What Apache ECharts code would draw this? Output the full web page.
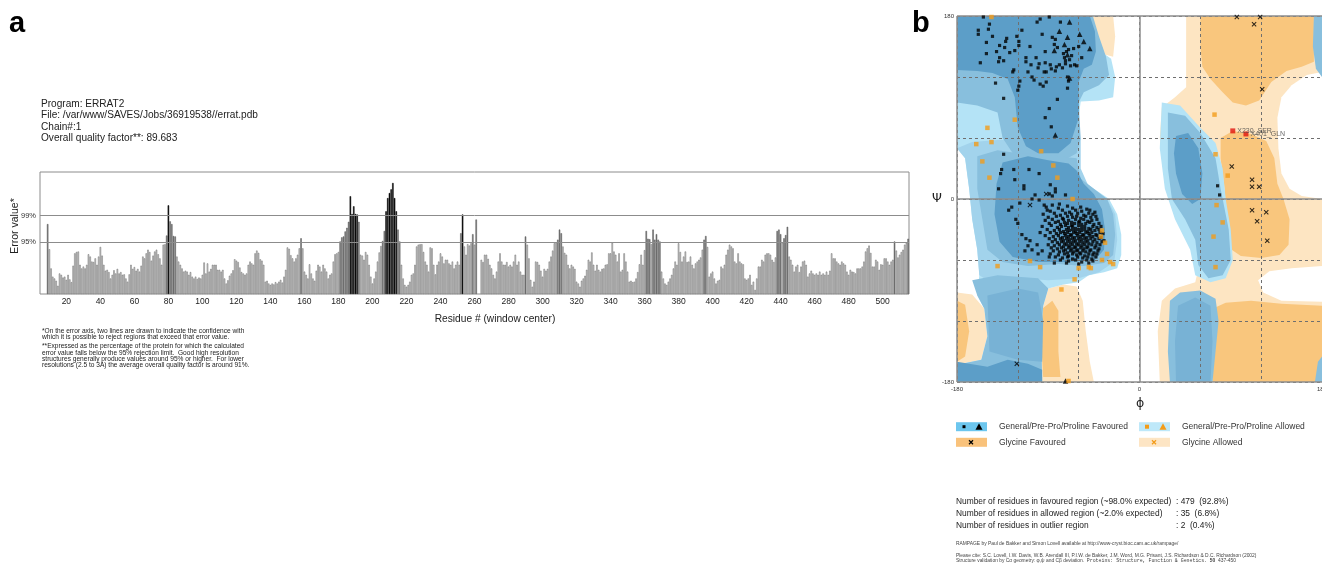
<!DOCTYPE html>
<html><head><meta charset="utf-8">
<script src="https://cdn.jsdelivr.net/npm/echarts@6/dist/echarts.min.js"></script>
<style>html,body{margin:0;padding:0;background:#fff}#c{width:1322px;height:563px}</style>
</head><body><div id="c"></div><script>
const FONT = '"Liberation Sans", Arial, Helvetica, sans-serif';

// ================= Panel a : ERRAT =================
const headerLines = ['Program: ERRAT2', 'File: /var/www/SAVES/Jobs/36919538//errat.pdb', 'Chain#:1', 'Overall quality factor**: 89.683'];
const footnoteLines = [
  '*On the error axis, two lines are drawn to indicate the confidence with',
  'which it is possible to reject regions that exceed that error value.',
  '**Expressed as the percentage of the protein for which the calculated',
  'error value falls below the 95% rejection limit.  Good high resolution',
  'structures generally produce values around 95% or higher.  For lower',
  'resolutions (2.5 to 3A) the average overall quality factor is around 91%.'
];
const firstResidue = 5;
const errorValues = [
 null,null,null,null, 15.3,
 9.8,5.6,3.8,3.4,2.9,1.8,4.5,4.2,3.6,3.8,
 3.1,4.2,3.2,2.6,6.2,8.9,9.2,9.3,6.4,5.6,
 6.0,5.6,6.4,8.7,8.2,7.1,7.0,7.8,6.4,8.2,
 10.3,8.4,6.4,5.1,5.3,4.8,3.4,4.2,5.2,4.5,
 5.5,4.5,4.8,4.2,4.3,3.4,2.7,4.3,6.4,5.5,
 5.9,5.1,5.5,4.9,6.2,8.2,7.8,8.9,9.7,9.2,
 7.3,8.4,9.3,9.7,8.7,7.8,6.4,10.8,10.9,12.8,
 19.4,15.9,15.3,12.7,12.6,8.2,7.1,6.4,5.6,4.9,
 5.1,4.9,4.2,4.8,3.8,3.4,3.8,3.3,3.6,3.4,
 4.2,6.9,4.5,6.7,4.9,5.5,6.4,6.4,6.4,5.3,
 5.3,4.9,5.3,3.4,2.3,3.0,4.0,4.5,5.2,7.6,
 7.3,7.0,5.8,4.8,4.5,4.2,4.5,6.4,7.1,6.7,
 6.4,8.9,9.5,9.0,7.6,7.3,6.4,2.7,2.9,2.3,
 2.0,2.3,2.1,2.6,2.3,2.7,3.1,2.5,3.8,5.3,
 10.2,9.9,8.5,7.8,7.1,7.8,8.6,10.0,12.2,10.0,
 4.9,4.2,3.4,6.5,4.5,3.4,2.9,5.1,6.4,6.0,
 4.9,6.4,5.6,4.9,3.4,4.2,4.5,7.1,8.7,8.9,
 9.2,11.5,12.4,12.6,13.7,14.5,15.8,21.4,17.5,19.2,
 17.5,17.4,15.8,8.6,8.4,7.5,9.2,8.6,6.4,3.8,
 2.3,3.4,4.9,7.1,9.1,10.5,11.6,13.8,18.1,21.0,
 22.1,22.9,24.3,21.0,18.1,14.1,11.5,6.4,3.4,2.0,
 1.6,2.0,2.7,4.2,4.5,6.4,10.4,10.8,10.9,10.9,
 9.2,7.1,6.4,4.9,10.2,10.0,6.4,4.3,6.4,7.1,
 8.9,8.2,6.7,7.5,7.5,6.7,6.4,7.1,5.6,6.4,
 7.1,6.4,13.3,17.4,10.4,8.6,10.9,10.6,11.1,13.1,
 10.8,16.3,null,null,7.5,7.0,8.6,8.6,7.7,6.4,
 5.6,4.2,3.4,4.9,7.1,8.9,7.1,6.4,6.4,7.0,
 6.0,6.4,6.0,7.1,8.6,6.4,7.1,4.9,4.2,4.2,
 12.6,10.8,7.8,3.1,1.6,2.7,7.1,7.0,6.4,5.1,
 3.8,5.5,5.1,5.5,7.1,8.2,9.5,11.1,11.2,11.9,
 14.1,13.3,10.4,9.0,8.6,6.4,5.6,6.4,6.0,5.5,
 2.7,2.3,1.6,2.9,3.4,4.0,5.3,7.5,7.1,9.1,
 6.4,5.1,6.4,5.3,4.9,5.5,5.6,6.4,6.5,8.9,
 8.9,11.2,9.3,8.6,7.1,8.9,4.9,5.3,8.9,7.1,
 4.9,2.7,2.9,2.6,2.7,3.4,4.8,6.5,8.6,6.4,
 9.6,13.8,12.1,12.0,10.9,14.1,11.9,13.1,11.9,11.5,
 4.9,3.4,2.3,2.0,2.7,3.4,4.2,5.6,7.1,6.4,
 11.1,9.2,7.1,8.2,9.3,7.0,7.1,8.2,6.4,5.6,
 6.7,7.1,7.5,8.0,9.7,11.9,12.7,10.3,3.8,4.5,
 4.9,3.4,2.3,2.9,3.1,6.0,5.6,6.4,8.6,9.7,
 10.8,10.4,10.0,7.1,6.7,8.9,7.1,6.7,6.5,3.4,
 3.1,3.4,4.2,2.0,2.7,0.9,3.4,6.0,6.0,7.5,
 7.1,8.6,8.9,8.9,8.6,7.5,7.0,8.0,13.8,14.1,
 13.1,11.2,12.2,12.9,14.7,8.2,7.5,6.4,4.9,6.0,
 6.4,4.8,6.0,7.1,7.3,6.4,3.8,4.5,5.1,4.5,
 4.2,4.5,4.2,4.9,4.2,4.5,4.2,4.9,4.2,5.1,
 8.9,7.8,7.8,7.1,6.7,6.4,7.1,6.7,6.4,4.9,
 4.2,5.3,4.9,4.8,4.5,5.6,5.6,5.6,6.0,7.1,
 9.3,10.0,10.6,9.0,6.0,6.0,7.5,7.1,5.3,6.5,
 6.4,7.8,7.8,7.1,6.4,7.1,7.5,11.5,9.5,8.0,
 8.6,9.2,9.7,10.8,11.2,12.1
];
const limit95 = 11.36, limit99 = 17.19;
const limitLabels = ['95%', '99%'];
const errorAxisMax = 26.7;
const residueTickStep = 20;

// ================= Panel b : Ramachandran =================
const PALE = '#fde5c2', ORANGE = '#f9c67d', WHITE = '#ffffff';
const CYAN = '#b4e3f6', LIGHT = '#a2d3ec', MED = '#88bfdd', MEDDARK = '#78b2d5', DARK = '#5c9ec8';

const glyAllowedRight = [[46,180],[180,180],[180,-180],[20,-180],[18,-130],[22,-100],[35,-88],[55,-82],[60,-60],[50,-40],[35,-10],[25,20],[20,60],[22,90],[35,100],[46,110]];
const glyAllowedLeftBottom = [[-180,-92],[-165,-94],[-153,-108],[-150,-135],[-156,-158],[-180,-163]];
const glyAllowedLeftStrip = [[-90,-88],[-75,-84],[-62,-86],[-56,-100],[-53,-130],[-49,-160],[-45,-180],[-96,-180],[-97,-130],[-95,-105]];
const glyAllowedTop = [[-48,180],[-26,180],[-24,160],[-26,140],[-38,143],[-45,165]];
const glyFavTopRight = [[60,180],[172,180],[172,135],[160,130],[145,126],[130,115],[118,97],[105,92],[92,95],[82,105],[70,118],[62,130],[60,150]];
const glyFavMidRight = [[80,60],[92,67],[110,64],[125,57],[133,40],[136,15],[142,0],[148,-20],[147,-45],[138,-55],[120,-58],[100,-56],[88,-48],[86,-20],[84,10],[80,40]];
const glyFavBottomRight = [[72,-108],[85,-102],[110,-100],[140,-103],[180,-105],[180,-180],[72,-180]];
const glyFavLeftBottom = [[-180,-100],[-172,-104],[-168,-130],[-172,-155],[-180,-160]];
const glyFavLeftStrip = [[-96,-108],[-86,-100],[-80,-110],[-80,-150],[-78,-175],[-95,-175],[-97,-140]];
const emptyTopRight = [[180,125],[165,122],[150,112],[140,100],[136,80],[137,50],[140,25],[148,10],[160,3],[180,0]];
const emptyNotchRight = [[180,-66],[150,-68],[128,-71],[117,-80],[122,-92],[140,-100],[180,-101]];
const genAllowedLeft = [[-180,180],[-48,180],[-45,165],[-38,145],[-28,138],[-24,120],[-26,100],[-40,97],[-58,96],[-60,80],[-60,40],[-58,20],[-45,10],[-30,0],[-22,-15],[-18,-35],[-18,-55],[-22,-68],[-35,-72],[-50,-75],[-60,-82],[-75,-84],[-90,-88],[-95,-105],[-97,-130],[-96,-180],[-180,-180],[-180,-163],[-156,-158],[-150,-135],[-153,-108],[-160,-95],[-158,-75],[-160,-50],[-165,-20],[-168,10],[-172,40],[-180,50]];
const genLightLeft = [[-180,50],[-172,40],[-168,10],[-165,-20],[-160,-50],[-158,-75],[-150,-80],[-120,-78],[-90,-80],[-60,-78],[-40,-72],[-25,-62],[-22,-40],[-24,-15],[-32,0],[-50,12],[-58,30],[-58,60],[-100,58],[-140,58],[-165,56]];
const genMedBottom = [[-165,-80],[-140,-75],[-100,-78],[-90,-88],[-95,-105],[-97,-130],[-96,-180],[-180,-180],[-180,-163],[-156,-158],[-150,-135],[-153,-108],[-160,-95]];
const genMedBeta = [[-180,180],[-46,180],[-40,160],[-33,140],[-30,122],[-40,112],[-55,105],[-60,95],[-58,60],[-62,45],[-80,35],[-105,38],[-125,45],[-135,60],[-140,85],[-160,92],[-180,95]];
const genMedAlpha = [[-160,42],[-140,48],[-120,45],[-100,45],[-80,42],[-62,40],[-58,20],[-45,10],[-32,0],[-26,-15],[-24,-35],[-26,-55],[-35,-63],[-55,-66],[-80,-64],[-110,-66],[-135,-62],[-150,-50],[-155,-20],[-160,10]];
const genMedDarkBottom = [[-150,-95],[-120,-88],[-100,-92],[-95,-120],[-96,-160],[-120,-158],[-148,-150]];
const genFavBeta = [[-180,180],[-49,180],[-44,165],[-43,145],[-47,132],[-55,128],[-60,115],[-60,80],[-68,55],[-80,45],[-100,45],[-112,52],[-120,70],[-123,100],[-130,118],[-145,124],[-160,126],[-180,127]];
const genFavAlpha = [[-135,36],[-110,42],[-90,38],[-70,35],[-62,28],[-55,15],[-45,5],[-37,-10],[-34,-30],[-35,-50],[-44,-60],[-70,-62],[-100,-62],[-125,-57],[-138,-42],[-143,-15],[-141,15]];
const genFavBottom = [[-180,-160],[-150,-165],[-130,-158],[-110,-162],[-96,-168],[-96,-180],[-180,-180]];
const genAllowedAlphaL = [[22,95],[40,92],[60,70],[75,55],[82,30],[85,0],[90,-30],[92,-60],[85,-78],[70,-82],[55,-75],[50,-50],[35,-20],[25,10],[20,50]];
const genMedAlphaL = [[28,85],[45,82],[60,65],[75,40],[80,10],[88,-30],[90,-60],[82,-75],[68,-78],[58,-65],[55,-40],[45,-20],[32,0],[28,30]];
const genFavAlphaL = [[36,62],[48,65],[58,50],[62,25],[60,0],[52,-5],[42,5],[36,25],[34,45]];
const genMedBottomRight = [[30,-100],[40,-92],[60,-90],[75,-98],[78,-120],[75,-150],[72,-180],[30,-180],[28,-150]];
const genFavBottomRight = [[38,-105],[55,-97],[70,-105],[72,-140],[70,-180],[36,-180],[35,-140]];
const genWrapTop = [[172,180],[180,180],[180,120],[174,128],[171,150]];
const genWrapBottom = [[173,-180],[180,-180],[180,-155],[176,-160]];

const regionLayers = [
  [glyAllowedRight, PALE], [glyAllowedLeftBottom, PALE], [glyAllowedLeftStrip, PALE], [glyAllowedTop, PALE],
  [glyFavTopRight, ORANGE], [glyFavMidRight, ORANGE], [glyFavBottomRight, ORANGE], [glyFavLeftBottom, ORANGE], [glyFavLeftStrip, ORANGE],
  [emptyTopRight, WHITE], [emptyNotchRight, WHITE],
  [genAllowedLeft, CYAN], [genLightLeft, LIGHT], [genMedBottom, MED], [genMedBeta, MED], [genMedAlpha, MED], [genMedDarkBottom, MEDDARK],
  [genFavBeta, DARK], [genFavAlpha, DARK], [genFavBottom, DARK],
  [genAllowedAlphaL, CYAN], [genMedAlphaL, MED], [genFavAlphaL, DARK],
  [genMedBottomRight, MED], [genFavBottomRight, MEDDARK], [genWrapTop, MED], [genWrapBottom, MED]
];

const betaSquares = [[-154,179],[-159,166],[-148,172],[-149,167],[-159,162],[-151,154],[-157,134],[-151,143],[-138,151],[-141,145],[-131,158],[-132,155],[-133,149],[-138,139],[-139,135],[-134,136],[-128,144],[-123,146],[-121,160],[-119,155],[-116,166],[-119,151],[-124,127],[-112,139],[-107,132],[-101,174],[-98,177],[-89,179],[-102,139],[-99,133],[-100,129],[-93,145],[-93,134],[-92,125],[-86,159],[-83,157],[-84,152],[-81,149],[-78,174],[-88,132],[-83,126],[-79,132],[-76,129],[-73,133],[-74,139],[-75,143],[-72,145],[-73,136],[-69,137],[-68,131],[-64,132],[-62,131],[-70,147],[-67,141],[-65,148],[-57,139],[-71,120],[-70,116],[-71,109],[-81,98],[-89,89],[-93,80],[-87,71],[-118,116],[-119,111],[-120,107],[-104,117],[-106,120],[-98,113],[-95,111],[-92,115],[-134,99],[-142,114],[-125,125],[-112,135],[-110,125],[-94,125],[-87,128],[-82,130],[-145,160],[-108,150],[-96,162],[-60,150]];
const alphaSparse = [[-134,44],[-136,29],[-124,29],[-109,29],[-99,25],[-137,25],[-123,19],[-114,13],[-114,10],[-139,10],[-83,10],[-83,7],[-88,14],[-103,4],[-106,0],[-99,-1],[-89,5],[-86,3],[-73,4],[-94,-6],[-118,-4],[-126,-8],[-79,-5],[-86,-6],[-91,-11],[-129,-11],[-122,-20],[-120,-24],[-116,-35],[-112,-39],[-110,-46],[-108,-41],[-113,-51],[-101,-45],[-106,-50],[-98,-33],[-100,-54],[-89,-57],[-84,-63],[-96,-51]];
const helixCluster = [
 [-92,-8],[-80,-9],[-71,-7],[-66,-9],[-58,-8],[-52,-10],
 [-88,-12],[-76,-11],[-69,-13],[-63,-11],[-57,-12],[-49,-11],[-44,-13],
 [-95,-15],[-84,-14],[-78,-16],[-73,-14],[-67,-15],[-61,-14],[-55,-16],[-50,-14],[-46,-15],
 [-90,-18],[-82,-17],[-76,-19],[-71,-17],[-66,-18],[-62,-17],[-58,-19],[-53,-17],[-48,-18],[-43,-17],
 [-93,-21],[-86,-20],[-80,-22],[-75,-20],[-70,-21],[-67,-23],[-63,-20],[-59,-22],[-55,-20],[-51,-22],[-47,-21],[-42,-20],
 [-89,-24],[-83,-23],[-78,-25],[-74,-23],[-71,-24],[-67,-26],[-64,-24],[-60,-23],[-57,-25],[-53,-24],[-49,-23],[-45,-25],[-40,-24],
 [-96,-27],[-87,-26],[-81,-28],[-77,-27],[-73,-26],[-70,-28],[-66,-27],[-63,-29],[-60,-26],[-57,-28],[-54,-27],[-50,-29],[-46,-27],[-42,-28],[-38,-27],
 [-91,-30],[-84,-31],[-79,-30],[-75,-32],[-72,-30],[-69,-31],[-66,-30],[-63,-32],[-60,-30],[-57,-31],[-54,-30],[-51,-32],[-48,-30],[-44,-31],[-40,-30],
 [-88,-33],[-82,-34],[-78,-33],[-74,-34],[-71,-33],[-68,-35],[-65,-33],[-62,-34],[-59,-33],[-56,-35],[-53,-33],[-50,-34],[-47,-33],[-43,-35],[-39,-33],[-36,-34],
 [-93,-36],[-85,-37],[-80,-36],[-76,-38],[-73,-36],[-70,-37],[-67,-36],[-64,-38],[-61,-36],[-58,-37],[-55,-36],[-52,-38],[-49,-36],[-46,-37],[-42,-36],[-38,-38],
 [-89,-39],[-83,-40],[-78,-39],[-75,-41],[-72,-39],[-69,-40],[-66,-39],[-63,-41],[-60,-39],[-57,-40],[-54,-39],[-51,-41],[-48,-39],[-44,-40],[-40,-39],[-35,-41],
 [-86,-42],[-81,-43],[-77,-42],[-74,-44],[-71,-42],[-68,-43],[-65,-42],[-62,-44],[-59,-42],[-56,-43],[-53,-42],[-50,-44],[-46,-42],[-42,-43],[-37,-42],
 [-90,-45],[-84,-46],[-79,-45],[-75,-47],[-72,-45],[-69,-46],[-66,-45],[-63,-47],[-60,-45],[-57,-46],[-54,-45],[-51,-47],[-47,-45],[-43,-46],[-39,-45],
 [-87,-48],[-81,-49],[-77,-48],[-73,-50],[-70,-48],[-67,-49],[-64,-48],[-61,-50],[-58,-48],[-55,-49],[-52,-48],[-48,-50],[-44,-48],[-40,-49],
 [-85,-51],[-79,-52],[-75,-51],[-71,-53],[-68,-51],[-65,-52],[-62,-51],[-59,-53],[-56,-51],[-53,-52],[-49,-51],[-45,-53],[-41,-51],
 [-88,-54],[-80,-55],[-74,-54],[-70,-56],[-66,-54],[-62,-55],[-58,-54],[-54,-56],[-50,-54],[-46,-55],[-42,-54],
 [-83,-57],[-76,-58],[-71,-57],[-66,-59],[-61,-57],[-56,-58],[-51,-57],[-47,-59],[-43,-57],
 [-78,-60],[-70,-61],[-63,-60],[-57,-62],[-52,-60],[-46,-61],
 [-72,-63],[-60,-64],[-50,-63]
];
const alphaLSquares = [[77,13],[79,4]];
const favouredTriangles = [[-69,174],[-79,165],[-71,159],[-59,162],[-55,155],[-49,148],[-74,152],[-84,146],[-71,142],[-69,119],[-83,63],[-73,-179]];
const allowedSquares = [[-146,179],[-123,78],[-150,70],[-161,54],[-146,56],[-97,47],[-155,37],[-85,33],[-148,21],[-81,21],[-66,0],[-140,-66],[-98,-67],[-108,-61],[-60,-68],[-50,-67],[-48,-68],[-37,-60],[-29,-62],[-26,-64],[-32,-54],[-34,-43],[-38,-37],[-37,-31],[-64,-79],[-77,-89],[-70,-179],[74,83],[75,44],[87,23],[76,-6],[82,-23],[73,-37],[75,-67]];
const glycinePoints = [[-92,5],[-108,-6],[-121,-162],[96,179],[119,179],[113,172],[121,108],[91,32],[111,19],[111,12],[118,12],[111,-11],[125,-13],[116,-22],[126,-41]];
const outlierPoints = [[92,67],[105,64]];
const outlierLabels = ['X230_SER', 'X401_GLN'];
const ramaTickLabels = [-180, 0, 180];
const statLines = [
  ['Number of residues in favoured region (~98.0% expected)', ': 479  (92.8%)'],
  ['Number of residues in allowed region (~2.0% expected)', ': 35  (6.8%)'],
  ['Number of residues in outlier region', ': 2  (0.4%)']
];
const legendItems = ['General/Pre-Pro/Proline Favoured', 'General/Pre-Pro/Proline Allowed', 'Glycine Favoured', 'Glycine Allowed'];

// ================= build =================
const residues = errorValues.map((_, i) => String(firstResidue + i));
const barData = errorValues.map(v => v == null ? null : {
  value: v,
  itemStyle: v >= limit99 ? {color: '#000000', borderColor: '#000000'}
           : v >= limit95 ? {color: '#7a7a7a', borderColor: '#555555'}
           : {color: '#d6d6d6', borderColor: '#6a6a6a'}
});
const favouredSquares = betaSquares.concat(alphaSparse, helixCluster, alphaLSquares);
const X_PATH = 'path://M1.5,0L5,3.5L8.5,0L10,1.5L6.5,5L10,8.5L8.5,10L5,6.5L1.5,10L0,8.5L3.5,5L0,1.5Z';

function txt(text, x, y, size, opts) {
  return Object.assign({type: 'text', x: x, y: y, silent: true,
    style: Object.assign({text: text, fontSize: size, fontFamily: FONT, fill: '#222', align: 'left', verticalAlign: 'middle'}, (opts && opts.style) || {})},
    (opts && opts.el) || {});
}

const graphics = [];
graphics.push(txt('a', 9, 24, 29, {style: {fontWeight: 'bold', fill: '#000'}}));
graphics.push(txt('b', 912, 24, 29, {style: {fontWeight: 'bold', fill: '#000'}}));
headerLines.forEach((t, i) => graphics.push(txt(t, 41, 104.5 + i * 11.2, 10.1)));
graphics.push(txt('Error value*', 15, 226, 10.5, {style: {align: 'center'}, el: {rotation: Math.PI / 2}}));
graphics.push(txt('Residue # (window center)', 495, 319, 10.2, {style: {align: 'center'}}));
[331, 337.5, 346.5, 352.8, 359.1, 365.4].forEach((y, i) => graphics.push(txt(footnoteLines[i], 42, y, 6.6)));

// Ramachandran axis symbols
graphics.push(txt('\u03A8', 937, 199, 12.5, {style: {align: 'center', fontFamily: '"DejaVu Sans", sans-serif'}}));
graphics.push(txt('\u03D5', 1140, 404, 12.5, {style: {align: 'center', fontFamily: '"DejaVu Sans", sans-serif'}}));

// Legend
const legRows = [426.7, 442.3];
const legSw = [[956, '#6cc6ee'], [1139, '#bee8f9'], [956, '#f9c27b'], [1139, '#fde5c4']];
legSw.forEach((s, i) => {
  const y = legRows[i < 2 ? 0 : 1];
  graphics.push({type: 'rect', silent: true, shape: {x: s[0], y: y - 4.5, width: 31, height: 9}, style: {fill: s[1]}});
  graphics.push(txt(legendItems[i], i % 2 === 0 ? 999 : 1182, y, 8.5, {style: {fill: '#333'}}));
});
graphics.push({type: 'rect', silent: true, shape: {x: 962.5, y: 425.2, width: 3, height: 3}, style: {fill: '#000'}});
graphics.push({type: 'polygon', silent: true, shape: {points: [[979, 423.2], [982.5, 429.7], [975.5, 429.7]]}, style: {fill: '#000'}});
graphics.push({type: 'rect', silent: true, shape: {x: 1145, y: 424.7, width: 4, height: 4}, style: {fill: '#f39c1a'}});
graphics.push({type: 'polygon', silent: true, shape: {points: [[1163, 423.2], [1166.5, 429.7], [1159.5, 429.7]]}, style: {fill: '#f39c1a'}});
[[971, '#000'], [1154, '#f39c1a']].forEach(p => {
  graphics.push({type: 'line', silent: true, shape: {x1: p[0] - 2, y1: 440.3, x2: p[0] + 2, y2: 444.3}, style: {stroke: p[1], lineWidth: 1.3}});
  graphics.push({type: 'line', silent: true, shape: {x1: p[0] + 2, y1: 440.3, x2: p[0] - 2, y2: 444.3}, style: {stroke: p[1], lineWidth: 1.3}});
});
// statistics
[501.7, 513.5, 525.7].forEach((y, i) => {
  graphics.push(txt(statLines[i][0], 956, y, 8.4, {style: {fill: '#222'}}));
  graphics.push(txt(statLines[i][1], 1176, y, 8.4, {style: {fill: '#222'}}));
});
graphics.push(txt('RAMPAGE by Paul de Bakker and Simon Lovell available at http://www-cryst.bioc.cam.ac.uk/rampage/', 956, 544, 4.9, {style: {fill: '#444'}}));
graphics.push(txt('Please cite: S.C. Lovell, I.W. Davis, W.B. Arendall III, P.I.W. de Bakker, J.M. Word, M.G. Prisant, J.S. Richardson & D.C. Richardson (2002)', 956, 555.5, 4.9, {style: {fill: '#444'}}));
graphics.push({type: 'text', x: 956, y: 560.8, silent: true, style: {
  text: '{n|Structure validation by C\u03B1 geometry: \u03C6,\u03C8 and C\u03B2 deviation.  }{m|Proteins: Structure, Function & Genetics.}{b|  50}{n|  437-450}',
  verticalAlign: 'middle', fill: '#444',
  rich: {n: {fontSize: 4.9, fontFamily: FONT, fill: '#444'}, m: {fontSize: 4.9, fontFamily: '"Liberation Mono", monospace', fill: '#444'}, b: {fontSize: 4.9, fontFamily: FONT, fontWeight: 'bold', fill: '#444'}}
}});

const option = {
  animation: false,
  backgroundColor: '#ffffff',
  textStyle: {fontFamily: FONT},
  grid: [
    {left: 40, top: 172, width: 869, height: 122, show: true, borderColor: '#8c8c8c', borderWidth: 1, backgroundColor: 'transparent', containLabel: false, outerBoundsMode: 'none'},
    {left: 957, top: 16, width: 365, height: 366, show: false, containLabel: false, outerBoundsMode: 'none'}
  ],
  xAxis: [
    {type: 'category', gridIndex: 0, data: residues, boundaryGap: true,
     axisLine: {show: false}, axisTick: {show: false}, splitLine: {show: false},
     axisLabel: {interval: (i, v) => (+v) % residueTickStep === 0, fontSize: 8.5, color: '#222', margin: 3, fontFamily: FONT}},
    {type: 'value', gridIndex: 1, min: -180, max: 180, interval: 60, z: 3,
     axisLine: {show: false}, axisTick: {show: false},
     splitLine: {show: true, lineStyle: {color: '#6f6f6f', type: [3, 3], width: 1}},
     axisLabel: {formatter: v => ramaTickLabels.indexOf(v) >= 0 ? String(v) : '', fontSize: 6, color: '#333', margin: 4, fontFamily: FONT, showMaxLabel: true, showMinLabel: true}}
  ],
  yAxis: [
    {type: 'value', gridIndex: 0, min: 0, max: errorAxisMax,
     axisLine: {show: false}, axisTick: {show: false}, splitLine: {show: false}, axisLabel: {show: false}},
    {type: 'value', gridIndex: 1, min: -180, max: 180, interval: 60, z: 3,
     axisLine: {show: false}, axisTick: {show: false},
     splitLine: {show: true, lineStyle: {color: '#6f6f6f', type: [3, 3], width: 1}},
     axisLabel: {formatter: v => ramaTickLabels.indexOf(v) >= 0 ? String(v) : '', fontSize: 6, color: '#333', margin: 3, fontFamily: FONT, showMaxLabel: true, showMinLabel: true}}
  ],
  series: [
    {type: 'bar', xAxisIndex: 0, yAxisIndex: 0, data: barData, barWidth: 1.45,
     itemStyle: {borderWidth: 0.5},
     markLine: {silent: true, symbol: 'none', animation: false,
       lineStyle: {color: '#8c8c8c', width: 1, type: 'solid'},
       label: {position: 'start', distance: 4, fontSize: 7.5, color: '#333', fontFamily: FONT},
       data: [{yAxis: limit99, label: {formatter: limitLabels[1]}}, {yAxis: limit95, label: {formatter: limitLabels[0]}}]}},
    {type: 'custom', xAxisIndex: 1, yAxisIndex: 1, z: 1, silent: true, clip: true,
     data: regionLayers.map((l, i) => [l[0][0][0], l[0][0][1], i]),
     renderItem: (params, api) => {
       const layer = regionLayers[api.value(2)];
       return {type: 'polygon', shape: {points: layer[0].map(p => api.coord(p))}, style: {fill: layer[1], stroke: null}};
     }},
    {type: 'scatter', xAxisIndex: 1, yAxisIndex: 1, z: 5, symbol: 'rect', symbolSize: 3.2, data: favouredSquares,
     itemStyle: {color: '#000'}, silent: true,
     markLine: {silent: true, symbol: 'none', animation: false, z: 4,
       lineStyle: {color: '#8c8c8c', width: 1.5, type: 'solid'}, label: {show: false},
       data: [{xAxis: 0}, {yAxis: 0}, {xAxis: -180}, {yAxis: 180}, {yAxis: -180}]}},
    {type: 'scatter', xAxisIndex: 1, yAxisIndex: 1, z: 6, symbol: 'triangle', symbolSize: 5.5, data: favouredTriangles, itemStyle: {color: '#000'}, silent: true},
    {type: 'scatter', xAxisIndex: 1, yAxisIndex: 1, z: 6, symbol: 'rect', symbolSize: 4.5, data: allowedSquares, itemStyle: {color: '#f39c1a'}, silent: true},
    {type: 'scatter', xAxisIndex: 1, yAxisIndex: 1, z: 6, symbol: X_PATH, symbolSize: 5, data: glycinePoints, itemStyle: {color: '#000'}, silent: true},
    {type: 'scatter', xAxisIndex: 1, yAxisIndex: 1, z: 7, symbol: 'rect', symbolSize: 5, silent: true,
     data: outlierPoints.map((p, i) => ({value: p, name: outlierLabels[i]})), itemStyle: {color: '#e0140c'},
     label: {show: true, position: 'right', distance: 2, formatter: '{b}', fontSize: 7, color: '#444', fontFamily: FONT}}
  ],
  graphic: graphics
};
const chart = echarts.init(document.getElementById('c'));
chart.setOption(option);
</script></body></html>
